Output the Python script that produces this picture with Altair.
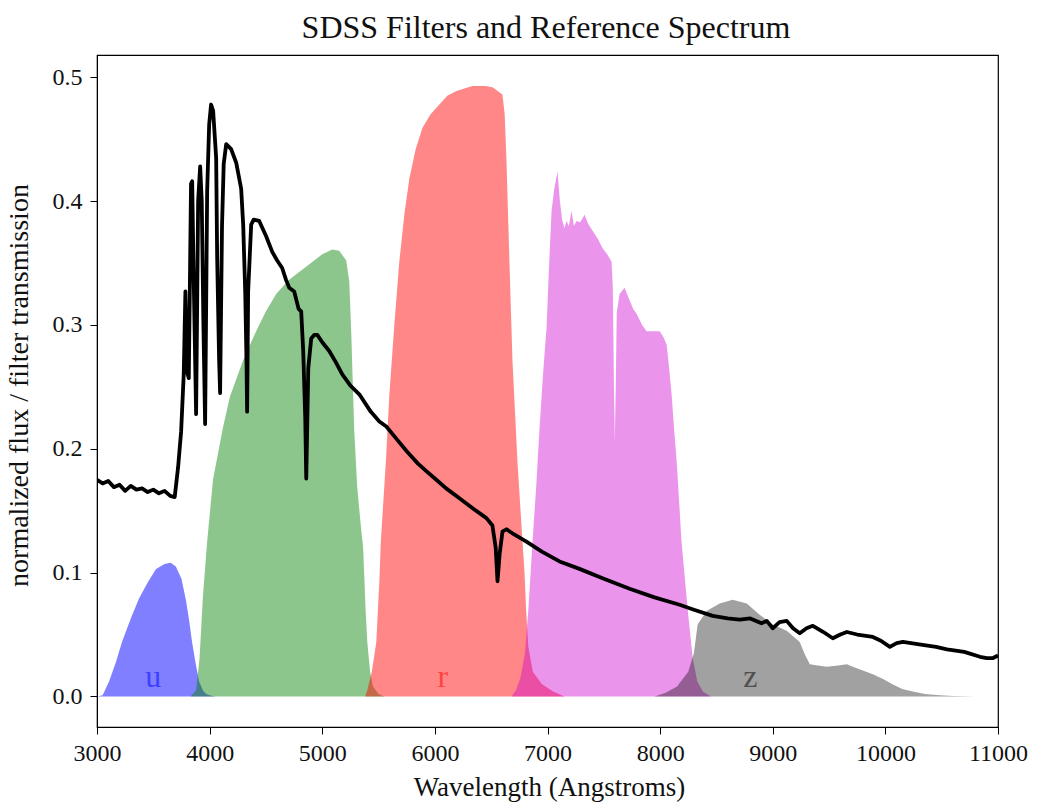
import altair as alt
import pandas as pd

# ---- SDSS filter transmission curves (wavelength in Angstroms, transmission) ----
u_wl = [2980, 3000, 3050, 3107, 3169, 3222, 3300, 3373, 3450, 3524, 3600, 3655, 3700,
        3750, 3791, 3820, 3844, 3875, 3907, 3940, 3969, 4000, 4050]
u_tr = [0.0, 0.0, 0.001, 0.012, 0.028, 0.044, 0.063, 0.079, 0.092, 0.103, 0.107, 0.108, 0.105,
        0.095, 0.077, 0.060, 0.044, 0.027, 0.012, 0.005, 0.002, 0.001, 0.0]

g_wl = [3830, 3880, 3910, 3940, 3978, 4030, 4118, 4180, 4300, 4413, 4500, 4591, 4700, 4769,
        4900, 5000, 5089, 5150, 5213, 5240, 5258, 5284, 5310, 5340, 5363, 5385, 5400, 5425,
        5450, 5500, 5550]
g_tr = [0.0, 0.005, 0.03, 0.08, 0.125, 0.175, 0.217, 0.242, 0.272, 0.295, 0.311, 0.325, 0.336, 0.341,
        0.350, 0.357, 0.361, 0.360, 0.352, 0.335, 0.292, 0.215, 0.17, 0.14, 0.12, 0.07, 0.044, 0.02,
        0.008, 0.002, 0.0]

r_wl = [5380, 5400, 5440, 5480, 5507, 5520, 5565, 5596, 5640, 5684, 5730, 5773, 5830, 5889,
        5960, 6040, 6110, 6191, 6333, 6450, 6511, 6600, 6620, 6636, 6662, 6689, 6733, 6778,
        6796, 6810, 6830, 6870, 6950, 7050, 7150]
r_tr = [0.0, 0.005, 0.02, 0.044, 0.093, 0.125, 0.19, 0.244, 0.30, 0.351, 0.39, 0.418, 0.442, 0.459,
        0.470, 0.478, 0.485, 0.489, 0.493, 0.493, 0.492, 0.486, 0.47, 0.432, 0.351, 0.271, 0.190, 0.125,
        0.10, 0.07, 0.04, 0.02, 0.01, 0.004, 0.0]

i_wl = [6680, 6720, 6760, 6800, 6830, 6867, 6900, 6929, 6960, 6991, 7015, 7036, 7060, 7089,
        7110, 7130, 7150, 7169, 7190, 7213, 7235, 7258, 7290, 7329, 7360, 7400, 7450, 7489,
        7530, 7569, 7580, 7590, 7598, 7606, 7615, 7640, 7684, 7720, 7760, 7791, 7840, 7880,
        7950, 7996, 8030, 8058, 8080, 8102, 8125, 8147, 8190, 8244, 8289, 8330, 8380, 8450]
i_tr = [0.0, 0.005, 0.015, 0.035, 0.07, 0.125, 0.17, 0.216, 0.26, 0.297, 0.35, 0.392, 0.41, 0.424,
        0.40, 0.385, 0.378, 0.384, 0.38, 0.392, 0.38, 0.384, 0.383, 0.389, 0.382, 0.376, 0.369, 0.362,
        0.357, 0.351, 0.33, 0.25, 0.206, 0.25, 0.31, 0.325, 0.330, 0.322, 0.313, 0.309, 0.300, 0.295,
        0.295, 0.295, 0.290, 0.284, 0.265, 0.244, 0.215, 0.190, 0.125, 0.071, 0.031, 0.012, 0.004, 0.0]

z_wl = [7950, 8050, 8150, 8250, 8300, 8333, 8413, 8529, 8644, 8769, 8884, 9000, 9124, 9240,
        9284, 9329, 9400, 9480, 9580, 9658, 9711, 9800, 9889, 9980, 10067, 10150, 10244, 10350,
        10484, 10600, 10800]
z_tr = [0.0, 0.003, 0.008, 0.02, 0.035, 0.058, 0.069, 0.075, 0.078, 0.075, 0.066, 0.058, 0.053, 0.044,
        0.034, 0.026, 0.025, 0.024, 0.025, 0.026, 0.024, 0.021, 0.018, 0.014, 0.0097, 0.006, 0.004, 0.002,
        0.001, 0.0003, 0.0]

# ---- reference (Vega) spectrum, normalized flux ----
spec_wl = [3000, 3050, 3100, 3150, 3200, 3250, 3300, 3350, 3400, 3450, 3500, 3550, 3600, 3650,
           3690, 3720, 3747, 3770, 3785, 3800, 3815, 3835, 3845, 3860, 3880, 3898, 3916, 3930,
           3945, 3960, 3978, 3996, 4013, 4031, 4058, 4067, 4084, 4093, 4110, 4125, 4147, 4191,
           4236, 4280, 4298, 4316, 4327, 4333, 4342, 4369, 4391, 4440, 4500, 4556, 4600, 4644,
           4680, 4707, 4751, 4790, 4813, 4831, 4849, 4858, 4876, 4902, 4929, 4956, 5000, 5062,
           5120, 5178, 5250, 5329, 5430, 5507, 5569, 5650, 5750, 5850, 5924, 6000, 6100, 6218,
           6350, 6458, 6511, 6540, 6556, 6575, 6600, 6636, 6700, 6813, 6950, 7107, 7284, 7500,
           7729, 7950, 8173, 8300, 8467, 8600, 8707, 8800, 8900, 8947, 9000, 9060, 9124, 9180,
           9240, 9300, 9356, 9450, 9533, 9600, 9658, 9750, 9889, 9960, 10040, 10100, 10156, 10300,
           10450, 10547, 10700, 10840, 10900, 10956, 11000]
spec_fx = [0.175, 0.172, 0.174, 0.169, 0.171, 0.166, 0.170, 0.167, 0.168, 0.165, 0.167, 0.164, 0.166, 0.162,
           0.161, 0.185, 0.214, 0.26, 0.327, 0.262, 0.257, 0.414, 0.416, 0.33, 0.228, 0.40, 0.428, 0.40,
           0.30, 0.220, 0.408, 0.462, 0.478, 0.473, 0.435, 0.354, 0.273, 0.245, 0.38, 0.43, 0.446, 0.442,
           0.431, 0.410, 0.381, 0.327, 0.273, 0.230, 0.327, 0.381, 0.385, 0.384, 0.372, 0.359, 0.352, 0.346,
           0.336, 0.330, 0.327, 0.313, 0.311, 0.279, 0.225, 0.176, 0.265, 0.289, 0.292, 0.292, 0.286, 0.279,
           0.270, 0.260, 0.251, 0.244, 0.230, 0.222, 0.218, 0.209, 0.198, 0.188, 0.182, 0.176, 0.168, 0.160,
           0.151, 0.144, 0.138, 0.120, 0.093, 0.115, 0.133, 0.135, 0.131, 0.125, 0.117, 0.109, 0.103, 0.095,
           0.087, 0.080, 0.074, 0.070, 0.065, 0.063, 0.062, 0.063, 0.059, 0.061, 0.055, 0.060, 0.061, 0.055,
           0.051, 0.055, 0.057, 0.052, 0.047, 0.050, 0.052, 0.050, 0.048, 0.045, 0.040, 0.043, 0.044, 0.042,
           0.040, 0.038, 0.036, 0.032, 0.031, 0.031, 0.033]

# ---- band labels (faint, on top of their own bands) ----
band_names = ["u", "r", "z"]
band_label_wl = [3500, 6070, 8800]
band_label_y = [0.016, 0.016, 0.016]
band_label_colors = ["#0000ff", "#ff0000", "#000000"]

fill_colors = ["#0000ff", "#008000", "#ff0000", "#d000d0", "#000000"]
fill_opacity = [0.5, 0.45, 0.47, 0.42, 0.37]

TITLE = "SDSS Filters and Reference Spectrum"
SERIF = "Liberation Serif"

x_scale = alt.Scale(domain=[3000, 11000], nice=False, zero=False)
y_scale = alt.Scale(domain=[-0.0247, 0.518], nice=False, zero=False)

x_axis = alt.Axis(
    values=[3000, 4000, 5000, 6000, 7000, 8000, 9000, 10000, 11000],
    format="d", title="Wavelength (Angstroms)", grid=False,
    tickSize=7, tickColor="black", domainColor="black",
    labelFontSize=24, labelPadding=7, labelFlush=False, labelOverlap=False,
    labelColor="#111", titleFontSize=27, titleFontWeight="normal", titleColor="#111",
    titleX=452, titleY=60, titleBaseline="middle",
)
y_axis = alt.Axis(
    values=[0.0, 0.1, 0.2, 0.3, 0.4, 0.5],
    format=".1f", title="normalized flux / filter transmission", grid=False,
    tickSize=7, tickColor="black", domainColor="black",
    labelFontSize=24, labelPadding=8, labelFlush=False, labelOverlap=False,
    labelColor="#111", titleFontSize=28, titleFontWeight="normal", titleColor="#111",
    titleX=-78, titleY=330, titleBaseline="middle", titleAngle=270,
)


def xenc(field):
    return alt.X(field, scale=x_scale, axis=x_axis)


def yenc(field):
    return alt.Y(field, scale=y_scale, axis=y_axis, stack=None)


filters = [(u_wl, u_tr), (g_wl, g_tr), (r_wl, r_tr), (i_wl, i_tr), (z_wl, z_tr)]
layers = []
for k, (wl, tr) in enumerate(filters):
    df = pd.DataFrame({"wl": wl, "t": tr})
    layers.append(
        alt.Chart(df).mark_area(color=fill_colors[k], opacity=fill_opacity[k], clip=True).encode(
            x=xenc("wl:Q"),
            y=yenc("t:Q"),
            y2=alt.datum(0),
        )
    )

labels_df = pd.DataFrame({"wl": band_label_wl, "y": band_label_y,
                          "band": band_names, "c": band_label_colors})
labels = alt.Chart(labels_df).mark_text(
    font=SERIF, fontSize=32, opacity=0.5, align="center", baseline="middle"
).encode(
    x=xenc("wl:Q"),
    y=yenc("y:Q"),
    text="band:N",
    color=alt.Color("c:N", scale=None),
)

spec_df = pd.DataFrame({"wl": spec_wl, "f": spec_fx})
spectrum = alt.Chart(spec_df).mark_line(color="black", strokeWidth=3.8, clip=True,
                                        strokeJoin="round").encode(
    x=xenc("wl:Q"),
    y=yenc("f:Q"),
)

# chart title, placed just above the plot frame
title_df = pd.DataFrame({"t": [TITLE]})
title = alt.Chart(title_df).mark_text(
    font=SERIF, fontSize=32, color="#111", align="center", baseline="alphabetic"
).encode(
    text="t:N",
    x=alt.value(449),
    y=alt.value(-17),
)

chart = alt.layer(*layers, labels, spectrum, title).properties(
    width=901, height=672,
    autosize=alt.AutoSizeParams(type="none"),
    padding={"left": 97, "top": 55, "right": 39, "bottom": 76},
).configure(
    font=SERIF,
    background="white",
).configure_view(
    stroke="black", strokeWidth=1.2,
).configure_axis(
    labelFont=SERIF, titleFont=SERIF,
)

chart.save("out.html", embed_options={"renderer": "svg", "actions": False})
